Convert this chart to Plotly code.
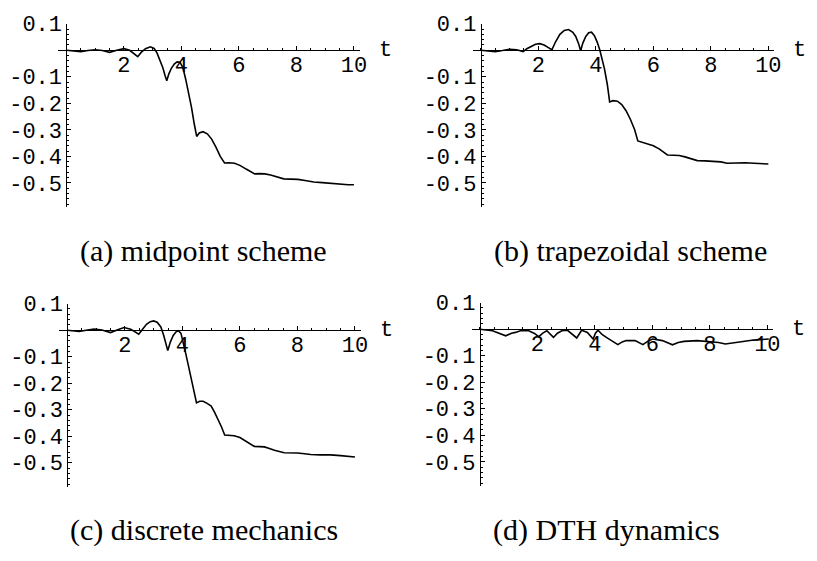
import plotly.graph_objects as go

# ---------------- data ----------------
t_a = [0, 0.25, 0.5, 0.75, 1.0, 1.25, 1.5, 1.75, 2.0, 2.2, 2.35, 2.48, 2.6, 2.75, 2.92, 3.05,
       3.15, 3.25, 3.35, 3.43, 3.49, 3.56, 3.65, 3.75, 3.85, 3.95, 4.05, 4.15, 4.25, 4.35, 4.45,
       4.53, 4.62, 4.75, 4.9, 5.05, 5.2, 5.35, 5.5, 5.65, 5.85, 6.05, 6.25, 6.4, 6.55, 6.7, 6.9,
       7.1, 7.3, 7.56, 7.8, 8.05, 8.3, 8.6, 8.9, 9.2, 9.5, 9.8, 10.0]
v_a = [0, -0.002, -0.005, -0.001, 0.002, -0.001, -0.008, 0.0, 0.006, 0.0, -0.012, -0.024, -0.008,
       0.006, 0.013, 0.007, -0.01, -0.035, -0.065, -0.095, -0.115, -0.09, -0.068, -0.052, -0.044,
       -0.045, -0.065, -0.11, -0.16, -0.215, -0.28, -0.325, -0.312, -0.307, -0.315, -0.335, -0.365,
       -0.4, -0.425, -0.424, -0.426, -0.435, -0.448, -0.458, -0.466, -0.465, -0.466, -0.47, -0.476,
       -0.485, -0.486, -0.487, -0.491, -0.497, -0.499, -0.502, -0.506, -0.507, -0.507]

t_b = [0, 0.25, 0.5, 0.75, 1.0, 1.25, 1.47, 1.6, 1.75, 1.9, 2.05, 2.2, 2.35, 2.47, 2.6, 2.75, 2.9,
       3.05, 3.2, 3.3, 3.4, 3.47, 3.55, 3.65, 3.75, 3.85, 3.95, 4.05, 4.14, 4.22, 4.3, 4.4, 4.48,
       4.6, 4.75, 4.9, 5.05, 5.2, 5.35, 5.46, 5.6, 5.8, 6.0, 6.2, 6.35, 6.49, 6.7, 6.9, 7.1, 7.3,
       7.53, 7.8, 8.1, 8.35, 8.56, 8.9, 9.2, 9.5, 9.8, 10.0]
v_b = [0, -0.003, -0.005, -0.001, 0.004, 0.002, -0.005, 0.006, 0.016, 0.023, 0.025, 0.02, 0.01,
       0.002, 0.032, 0.060, 0.075, 0.078, 0.068, 0.052, 0.025, -0.002, 0.028, 0.052, 0.066, 0.068,
       0.055, 0.03, 0.0, -0.03, -0.07, -0.13, -0.195, -0.19, -0.192, -0.205, -0.228, -0.26, -0.30,
       -0.342, -0.347, -0.352, -0.36, -0.372, -0.383, -0.395, -0.396, -0.397, -0.402, -0.408,
       -0.416, -0.417, -0.418, -0.421, -0.426, -0.424, -0.424, -0.426, -0.428, -0.429]

t_c = [0, 0.2, 0.41, 0.65, 0.93, 1.2, 1.5, 1.75, 1.97, 2.2, 2.35, 2.48, 2.6, 2.75, 2.88, 3.0, 3.12,
       3.25, 3.35, 3.43, 3.49, 3.58, 3.68, 3.78, 3.86, 3.95, 4.03, 4.12, 4.2, 4.3, 4.4, 4.49, 4.6,
       4.72, 4.86, 5.0, 5.12, 5.24, 5.36, 5.47, 5.62, 5.8, 6.0, 6.16, 6.33, 6.5, 6.68, 6.85, 7.0,
       7.2, 7.54, 7.8, 8.0, 8.25, 8.46, 8.8, 9.15, 9.5, 9.8, 10.0]
v_c = [0, -0.003, -0.005, 0.0, 0.004, 0.001, -0.009, 0.002, 0.010, 0.004, -0.005, -0.015, 0.002,
       0.022, 0.032, 0.035, 0.03, 0.012, -0.02, -0.052, -0.077, -0.045, -0.02, -0.006, -0.002,
       -0.012, -0.046, -0.09, -0.13, -0.18, -0.23, -0.274, -0.268, -0.268, -0.276, -0.286, -0.31,
       -0.336, -0.365, -0.395, -0.396, -0.398, -0.405, -0.416, -0.427, -0.438, -0.439, -0.44,
       -0.445, -0.453, -0.462, -0.462, -0.463, -0.466, -0.469, -0.47, -0.47, -0.473, -0.476, -0.478]

t_d = [0, 0.44, 0.9, 1.1, 1.24, 1.41, 1.7, 1.9, 2.05, 2.2, 2.33, 2.45, 2.56, 2.7, 2.85, 3.05, 3.2,
       3.37, 3.54, 3.74, 3.94, 4.02, 4.11, 4.25, 4.4, 4.6, 4.8, 4.95, 5.09, 5.4, 5.67, 5.85, 6.01,
       6.35, 6.7, 6.9, 7.1, 7.56, 8.02, 8.3, 8.54, 8.94, 9.52, 10.05]
v_d = [0, -0.006, -0.025, -0.015, -0.012, -0.006, -0.006, -0.016, -0.028, -0.014, -0.006, -0.018,
       -0.031, -0.015, -0.006, -0.004, -0.016, -0.033, -0.004, -0.012, -0.037, -0.015, -0.004,
       -0.02, -0.031, -0.045, -0.058, -0.048, -0.043, -0.043, -0.058, -0.045, -0.037, -0.043,
       -0.059, -0.05, -0.046, -0.043, -0.046, -0.05, -0.056, -0.049, -0.041, -0.037]

x_tick_vals = [2, 4, 6, 8, 10]
x_tick_text = ["2", "4", "6", "8", "10"]
y_tick_vals = [0.1, -0.1, -0.2, -0.3, -0.4, -0.5]
y_tick_text = ["0.1", "-0.1", "-0.2", "-0.3", "-0.4", "-0.5"]
axis_label = "t"
captions = ["(a) midpoint scheme", "(b) trapezoidal scheme",
            "(c) discrete mechanics", "(d) DTH dynamics"]

# ---------------- layout geometry ----------------
W, H = 817, 561
XR = [-0.28, 10.2]
YR = [-0.59, 0.1]
PX_PER_T = 29.0
PX_PER_V = 270.0
T_LABEL_AT = 11.1

# pixel position of the origin (t=0, v=0) of each panel
origins = [(67, 41), (485, 41), (68, 326), (484, 325)]
caption_pos = [(205, 245), (636, 245), (206, 529), (612, 529)]

series = [(t_a, v_a), (t_b, v_b), (t_c, v_c), (t_d, v_d)]

mono = "Liberation Mono"
serif = "Liberation Serif"
TICK_SIZE = 22

fig = go.Figure()
layout = dict(width=W, height=H, margin=dict(l=0, r=0, t=0, b=0),
              paper_bgcolor="white", plot_bgcolor="white", showlegend=False)
annotations = []

for i, ((ox, oy), (tt, vv)) in enumerate(zip(origins, series)):
    k = "" if i == 0 else str(i + 1)
    left = ox + XR[0] * PX_PER_T
    right = ox + XR[1] * PX_PER_T
    top = oy - YR[1] * PX_PER_V
    bottom = oy - YR[0] * PX_PER_V
    xd = [left / W, right / W]
    yd = [1 - bottom / H, 1 - top / H]
    x_axis_pos = 1 - oy / H
    y_axis_pos = ox / W

    fig.add_trace(go.Scatter(x=tt, y=vv, mode="lines",
                             line=dict(color="black", width=1.6),
                             xaxis="x" + k, yaxis="y" + k, hoverinfo="skip"))

    layout["xaxis" + k] = dict(
        domain=xd, range=XR, anchor="free", position=x_axis_pos,
        showgrid=False, zeroline=False, showline=True, linecolor="black", linewidth=1,
        ticks="inside", ticklen=4, tickcolor="black", tickwidth=1,
        tickvals=x_tick_vals, ticktext=x_tick_text, ticklabelstandoff=-6,
        tickfont=dict(family=mono, size=TICK_SIZE, color="black"),
        minor=dict(dtick=0.5, tick0=0, ticks="inside", ticklen=2, tickcolor="black"),
        fixedrange=True)
    layout["yaxis" + k] = dict(
        domain=yd, range=YR, anchor="free", position=y_axis_pos,
        showgrid=False, zeroline=False, showline=True, linecolor="black", linewidth=1,
        ticks="inside", ticklen=4, tickcolor="black", tickwidth=1,
        tickvals=y_tick_vals, ticktext=y_tick_text, ticklabelstandoff=0,
        tickfont=dict(family=mono, size=TICK_SIZE, color="black"),
        minor=dict(dtick=0.02, tick0=0, ticks="inside", ticklen=2, tickcolor="black"),
        fixedrange=True)

    annotations.append(dict(text=axis_label,
                            x=(ox + T_LABEL_AT * PX_PER_T) / W, y=1 - oy / H,
                            xref="paper", yref="paper",
                            showarrow=False, xanchor="center", yanchor="middle",
                            font=dict(family=mono, size=TICK_SIZE, color="black")))
    cx, cy = caption_pos[i]
    annotations.append(dict(text=captions[i], x=cx / W, y=1 - cy / H, xref="paper", yref="paper",
                            showarrow=False, xanchor="center", yanchor="middle",
                            font=dict(family=serif, size=30, color="black")))

layout["annotations"] = annotations
fig.update_layout(**layout)
fig.write_html("out.html")
